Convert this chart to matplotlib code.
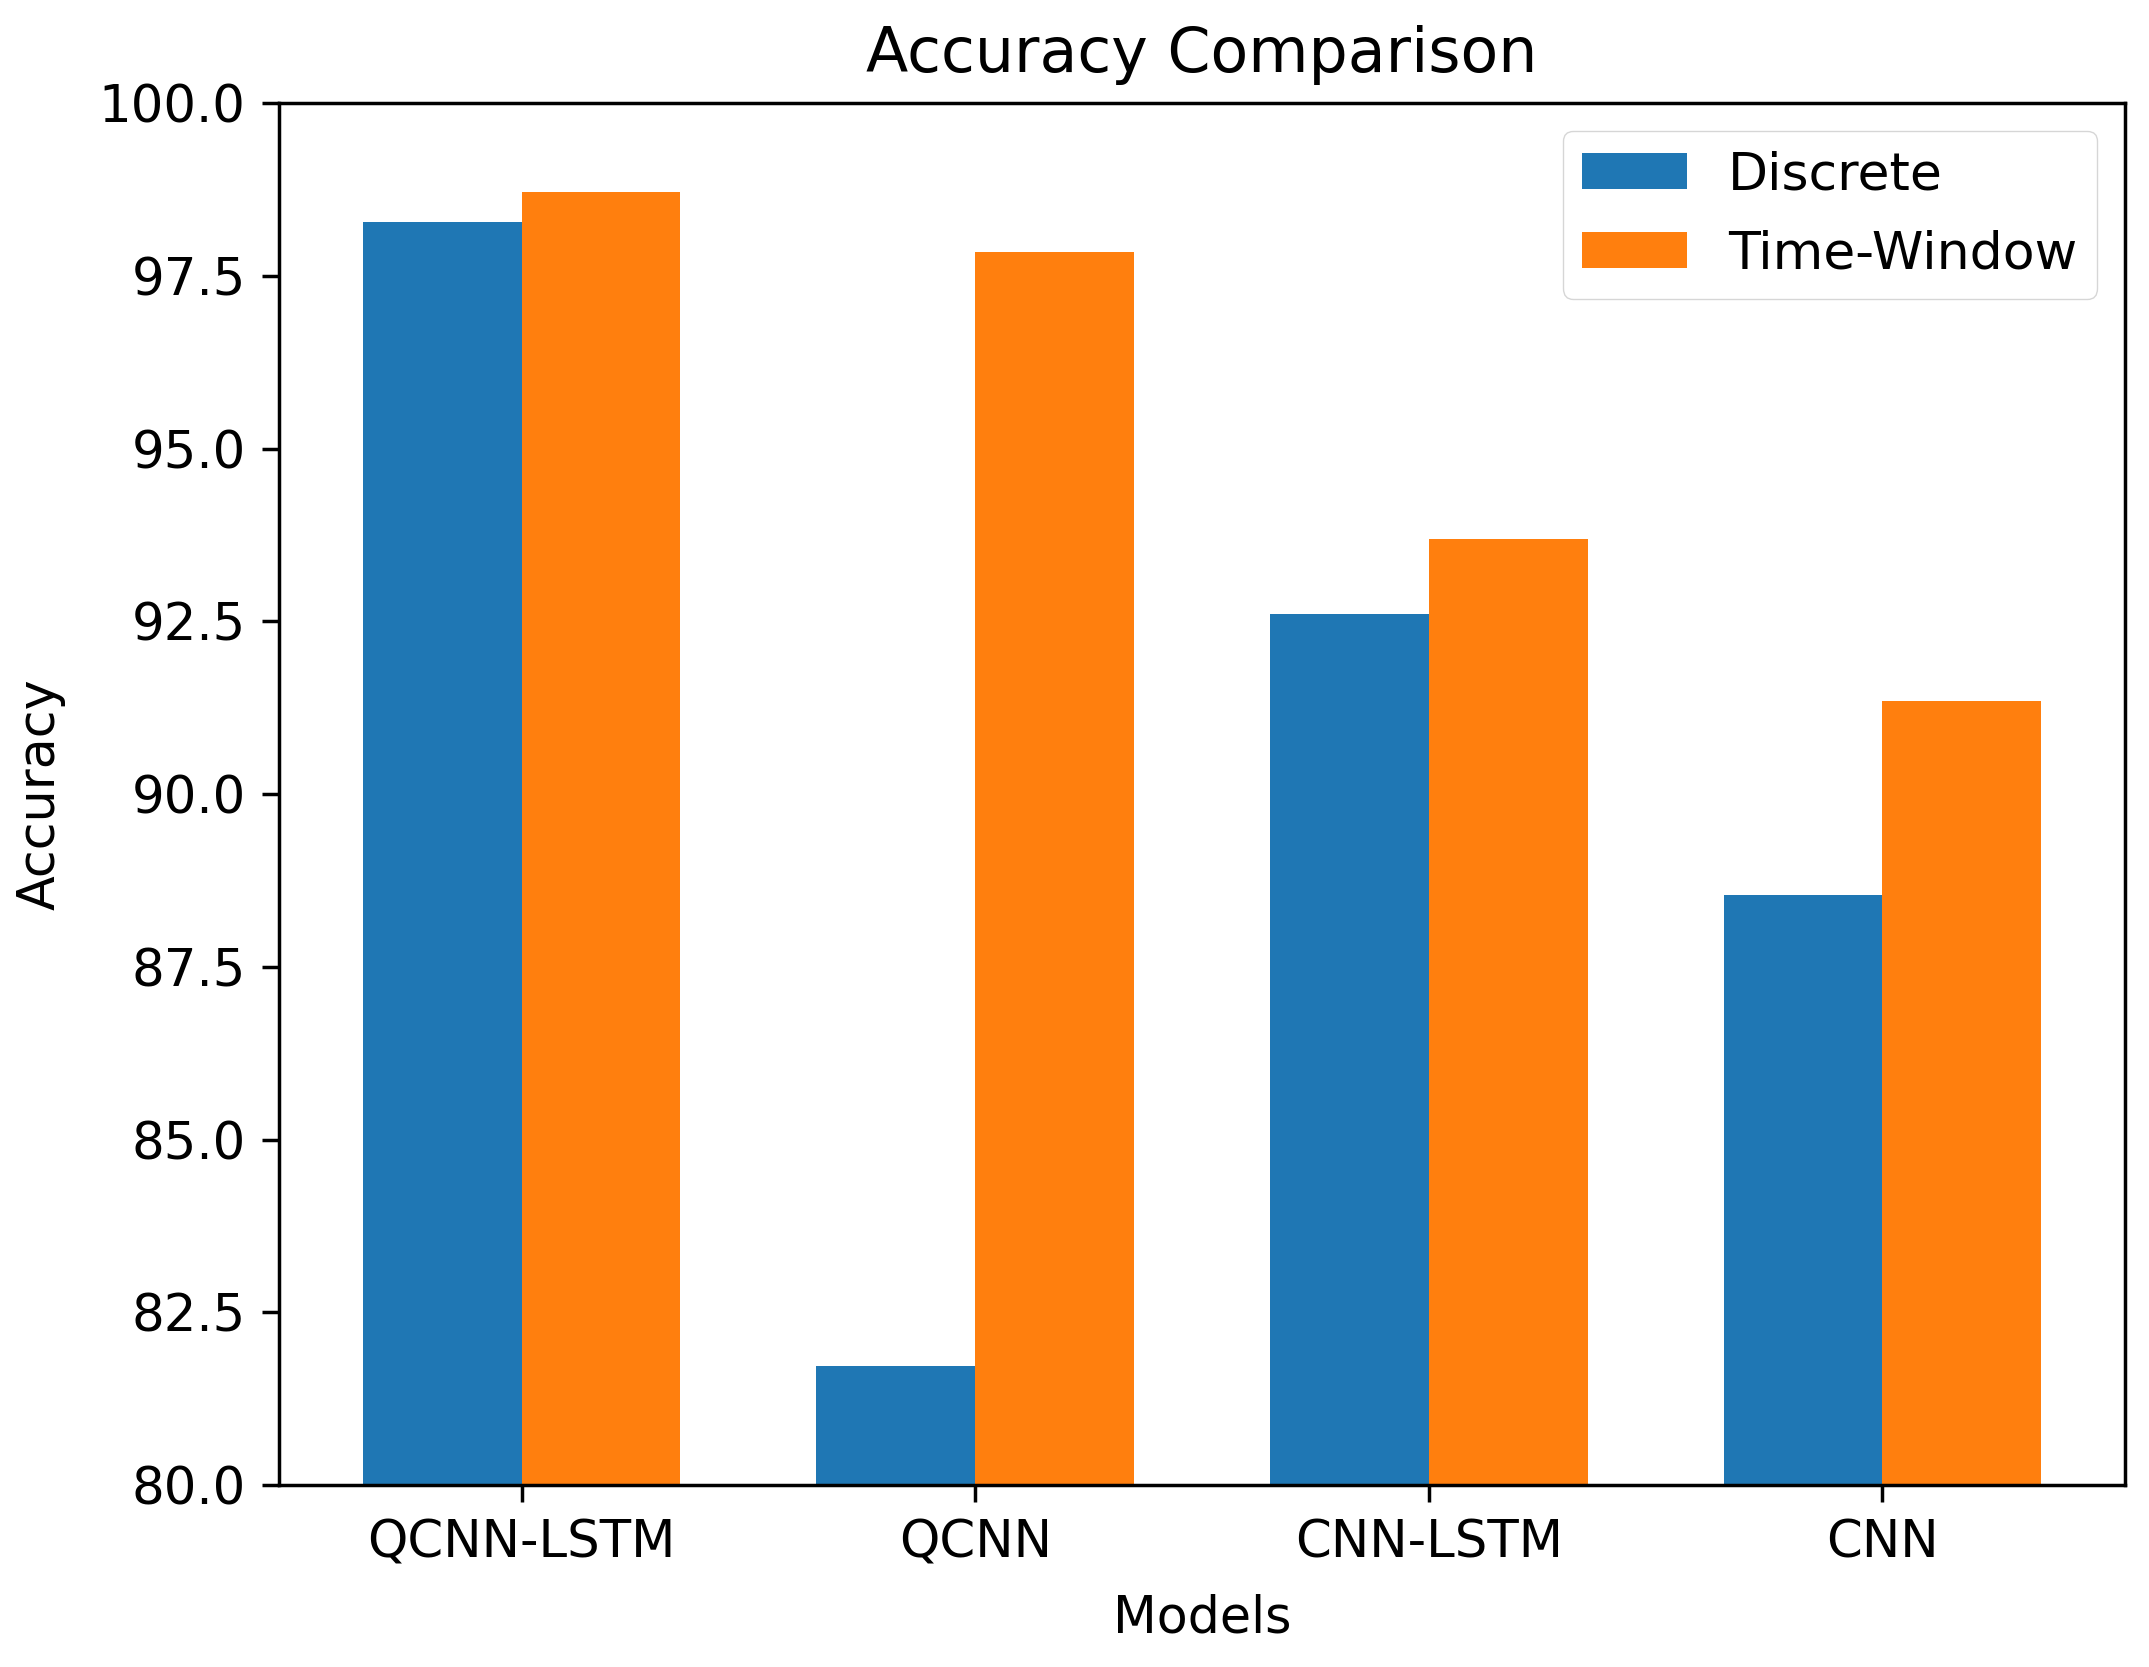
import matplotlib
matplotlib.use("Agg")
import matplotlib.pyplot as plt
import numpy as np

models = ["QCNN-LSTM", "QCNN", "CNN-LSTM", "CNN"]
discrete = [98.28, 81.72, 92.60, 88.54]
time_window = [98.71, 97.84, 93.69, 91.35]

fig = plt.figure(figsize=(21.49, 16.67), dpi=100)
left, right = 279 / 2149, 2125 / 2149
top, bottom = 1 - 103 / 1667, 1 - 1485 / 1667
ax = fig.add_axes([left, bottom, right - left, top - bottom])

x = np.arange(len(models))
w = 0.35
ax.bar(x - w / 2, discrete, w, label="Discrete", color="#1f77b4")
ax.bar(x + w / 2, time_window, w, label="Time-Window", color="#ff7f0e")

ax.set_ylim(80, 100)
ax.set_yticks(np.arange(80, 100.1, 2.5))
ax.set_yticklabels([f"{v:.1f}" for v in np.arange(80, 100.1, 2.5)])
ax.set_xticks(x)
ax.set_xticklabels(models)
ax.tick_params(labelsize=37, length=12, width=2.5, pad=12)
for s in ax.spines.values():
    s.set_linewidth(2.5)

ax.set_xlabel("Models", fontsize=36.5, labelpad=18)
ax.set_ylabel("Accuracy", fontsize=36.5, labelpad=24)
ax.set_title("Accuracy Comparison", fontsize=44.5, pad=22)
ax.legend(fontsize=37.5, loc="upper right", bbox_to_anchor=(0.985, 0.98),
          borderaxespad=0, borderpad=0.38, handlelength=2.0, labelspacing=0.55)

fig.savefig("out.png", dpi=100)
